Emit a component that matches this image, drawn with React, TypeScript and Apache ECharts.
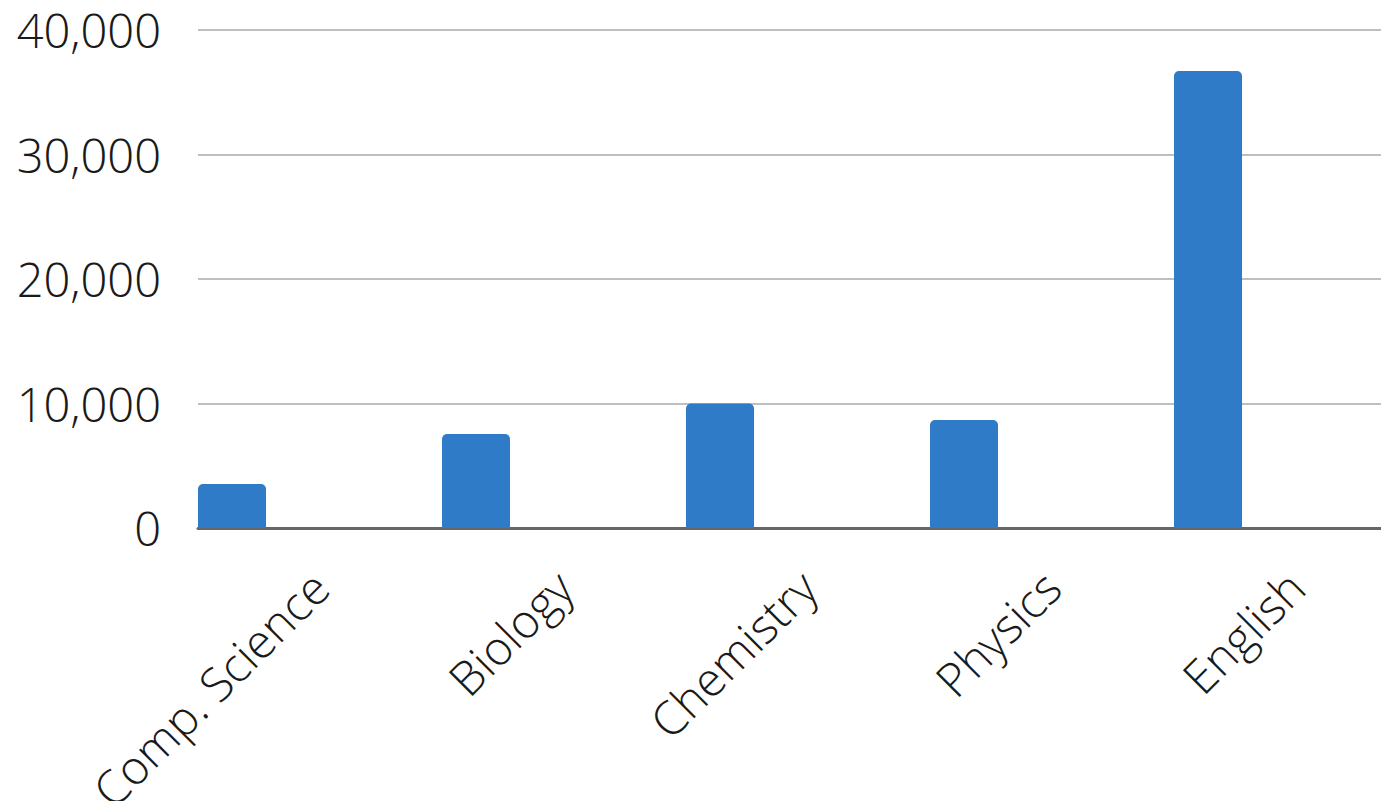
import React, { useEffect, useRef } from "react";
import * as echarts from "echarts";

const categories = ["Comp. Science", "Biology", "Chemistry", "Physics", "English"];
const values = [3530, 7550, 10000, 8680, 36700];
const emptySeries = [0, 0, 0, 0, 0];
const yTicks = { min: 0, max: 40000, interval: 10000 };

const FONT = "'Open Sans Light', 'Open Sans', 'Noto Sans', sans-serif";

export default function App() {
  const ref = useRef<HTMLDivElement>(null);
  useEffect(() => {
    if (!ref.current) return;
    const chart = echarts.init(ref.current, undefined, { renderer: "svg" });
    chart.setOption({
      animation: false,
      grid: {
        left: 198,
        top: 30,
        bottom: 273,
        right: -37,
        containLabel: false,
        outerBoundsMode: "none",
      },
      xAxis: {
        type: "category",
        data: categories,
        axisLine: { show: true, lineStyle: { color: "#666666", width: 3 } },
        axisTick: { show: false },
        axisLabel: {
          rotate: 45,
          interval: 0,
          margin: 51,
          fontSize: 47,
          fontWeight: 300,
          fontFamily: FONT,
          color: "#1a1a1a",
        },
        splitLine: { show: false },
      },
      yAxis: {
        type: "value",
        min: yTicks.min,
        max: yTicks.max,
        interval: yTicks.interval,
        axisLine: { show: false },
        axisTick: { show: false },
        splitLine: { lineStyle: { color: "#bfbfbf", width: 2 } },
        axisLabel: {
          margin: 37,
          fontSize: 47,
          fontWeight: 300,
          fontFamily: FONT,
          color: "#1a1a1a",
          formatter: (v: number) => v.toLocaleString("en-US"),
        },
      },
      series: [
        {
          type: "bar",
          data: values,
          barWidth: 68,
          barGap: "158.8%",
          itemStyle: { color: "#2f7bc7", borderRadius: [5, 5, 0, 0] },
        },
        {
          type: "bar",
          data: emptySeries,
          barWidth: 68,
          itemStyle: { color: "#4a8c7a" },
        },
      ],
    });
    return () => chart.dispose();
  }, []);
  return <div ref={ref} style={{ width: 1381, height: 801, position: "absolute", left: 0, top: 0 }} />;
}
